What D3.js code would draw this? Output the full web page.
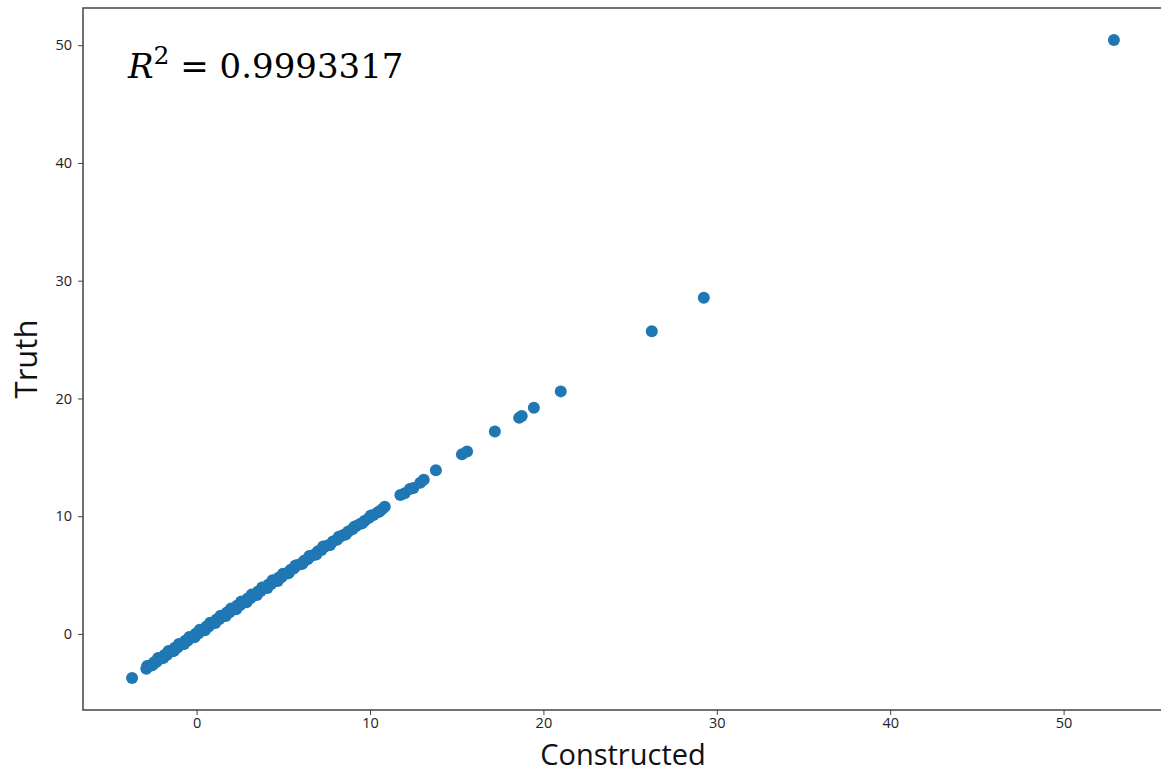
<!DOCTYPE html>
<html lang="en">
<head>
<meta charset="UTF-8">
<title>Truth vs Constructed</title>
<script src="https://d3js.org/d3.v7.min.js"></script>
<style>
    body { margin: 0; background: #fff; overflow: hidden; }
    .tick text { font-family: "Open Sans", sans-serif; font-size: 14.5px; fill: #222; }
    .tick line { stroke: #444; }
    .axis-label { font-family: "Open Sans", sans-serif; fill: #111; }
</style>
</head>
<body>
<div id="chart"></div>
<script>
// values (x = Constructed, y = Truth)
const constructed = [
    -3.72, -2.9, -2.75, -2.6, -2.45, -2.3, -2.15, -2.0, -1.85, -1.7, -1.55, -1.4, -1.25, -1.1, -0.95,
    -0.8, -0.65, -0.5, -0.35, -0.2, -0.05, 0.1, 0.25, 0.4, 0.55, 0.7, 0.85, 1.0, 1.15, 1.3, 1.45,
    1.6, 1.75, 1.9, 2.05, 2.2, 2.35, 2.5, 2.65, 2.8, 2.95, 3.1, 3.25, 3.4, 3.55, 3.7, 3.85, 4.0,
    4.15, 4.3, 4.45, 4.6, 4.75, 4.9, 5.05, 5.2, 5.4, 5.6, 5.8, 6.0, 6.2, 6.4, 6.6, 6.8, 7.0, 7.2,
    7.4, 7.6, 7.85, 8.1, 8.3, 8.5, 8.75, 9.0, 9.2, 9.45, 9.7, 9.95, 10.2, 10.45, 10.7, 10.85,
    11.75, 12.0, 12.3, 12.5, 12.9, 13.1, 13.8, 15.3, 15.6, 17.2, 18.6, 18.75, 19.45, 21.0,
    26.25, 29.25, 52.9,
    // second pass through the dense band (gives it its width)
    -2.85, -2.52, -2.22, -1.92, -1.62, -1.32, -1.02, -0.72, -0.42, -0.12, 0.18, 0.48, 0.78, 1.08,
    1.38, 1.68, 1.98, 2.28, 2.58, 2.88, 3.18, 3.48, 3.78, 4.08, 4.38, 4.68, 4.98, 5.3, 5.7, 6.1,
    6.5, 6.9, 7.3, 7.7, 8.2, 8.6, 9.1, 9.55, 10.05, 10.55
];
const truth = [
    -3.75, -2.95, -2.7, -2.68, -2.4, -2.36, -2.1, -2.05, -1.78, -1.76, -1.5, -1.45, -1.18, -1.16, -0.9,
    -0.86, -0.58, -0.55, -0.3, -0.26, 0.02, 0.04, 0.32, 0.35, 0.62, 0.64, 0.92, 0.95, 1.22, 1.25, 1.52,
    1.54, 1.82, 1.85, 2.12, 2.14, 2.42, 2.44, 2.72, 2.75, 3.02, 3.04, 3.3, 3.34, 3.6, 3.64, 3.9, 3.94,
    4.2, 4.24, 4.5, 4.55, 4.8, 4.84, 5.1, 5.14, 5.42, 5.55, 5.83, 5.95, 6.22, 6.35, 6.62, 6.74, 7.02, 7.13,
    7.42, 7.53, 7.84, 8.0, 8.28, 8.42, 8.7, 8.92, 9.16, 9.36, 9.62, 9.86, 10.1, 10.34, 10.6, 10.8,
    11.8, 11.95, 12.3, 12.4, 12.85, 13.1, 13.9, 15.25, 15.5, 17.2, 18.35, 18.5, 19.2, 20.6,
    25.7, 28.55, 50.45,
    -2.72, -2.62, -2.05, -2.05, -1.45, -1.46, -0.85, -0.86, -0.25, -0.28, 0.35, 0.32, 0.95, 0.92,
    1.55, 1.52, 2.15, 2.1, 2.75, 2.7, 3.35, 3.3, 3.95, 3.9, 4.55, 4.5, 5.12, 5.15, 5.82, 5.95,
    6.62, 6.75, 7.42, 7.55, 8.25, 8.45, 9.1, 9.4, 10.05, 10.4
];
const xTicks = [0, 10, 20, 30, 40, 50];
const yTicks = [0, 10, 20, 30, 40, 50];
const rSquared = "0.9993317";

const width = 1161, height = 774;
const margin = { top: 8, right: -2, bottom: 64, left: 83 };

const svg = d3.select('#chart').append('svg')
    .attr('width', width)
    .attr('height', height);

const points = constructed.map((c, i) => ({ c: c, t: truth[i] }));

// matplotlib style 5% padding around the data
function padded(values) {
    const [lo, hi] = d3.extent(values);
    const pad = (hi - lo) * 0.05;
    return [lo - pad, hi + pad];
}

const x = d3.scaleLinear()
    .domain(padded(constructed))
    .range([margin.left, width - margin.right]);

const y = d3.scaleLinear()
    .domain(padded(truth))
    .range([height - margin.bottom, margin.top]);

// dots
svg.append('g').selectAll('circle')
    .data(points)
    .enter().append('circle')
    .attr('cx', d => x(d.c))
    .attr('cy', d => y(d.t))
    .attr('r', 6)
    .attr('fill', '#1f77b4');

// axes
const xAxis = svg.append('g')
    .attr('transform', `translate(0,${height - margin.bottom})`)
    .call(d3.axisBottom(x).tickValues(xTicks).tickSize(5).tickPadding(3).tickFormat(d3.format('d')));

const yAxis = svg.append('g')
    .attr('transform', `translate(${margin.left},0)`)
    .call(d3.axisLeft(y).tickValues(yTicks).tickSize(5).tickPadding(6).tickFormat(d3.format('d')));

[xAxis, yAxis].forEach(a => a.select('.domain').remove());

// frame (right edge falls just outside the window)
svg.append('rect')
    .attr('x', margin.left)
    .attr('y', margin.top)
    .attr('width', width - margin.right - margin.left)
    .attr('height', height - margin.bottom - margin.top)
    .attr('fill', 'none')
    .attr('stroke', '#444')
    .attr('stroke-width', 1.5);

// axis titles
svg.append('text')
    .attr('class', 'axis-label')
    .attr('x', (margin.left + width - margin.right) / 2)
    .attr('y', 765)
    .attr('text-anchor', 'middle')
    .style('font-size', '29px')
    .text('Constructed');

svg.append('text')
    .attr('class', 'axis-label')
    .attr('transform', `translate(37,${(margin.top + height - margin.bottom) / 2}) rotate(-90)`)
    .attr('text-anchor', 'middle')
    .style('font-size', '31px')
    .text('Truth');

// R^2 annotation
const ann = svg.append('text')
    .attr('x', 128)
    .attr('y', 78)
    .style('font-family', '"DejaVu Serif", "Liberation Serif", serif')
    .style('font-size', '34px')
    .attr('fill', '#000');
ann.append('tspan').style('font-style', 'italic').text('R');
ann.append('tspan').attr('dy', -14).style('font-size', '25px').text('2');
ann.append('tspan').attr('dy', 14).text(' = ' + rSquared);
</script>
</body>
</html>
